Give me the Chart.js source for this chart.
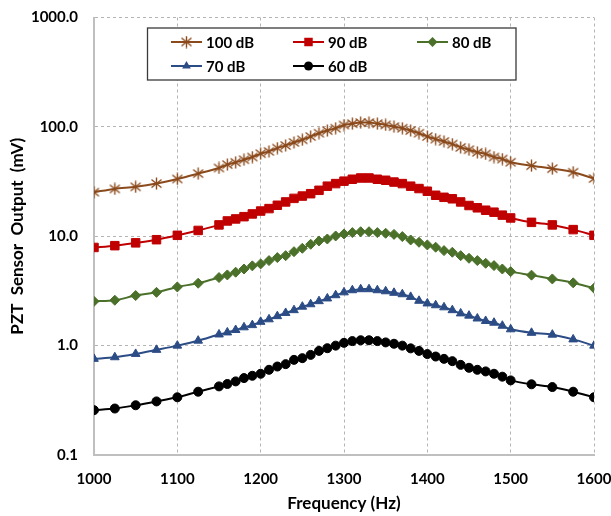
<!DOCTYPE html>
<html>
<head>
<meta charset="utf-8">
<title>PZT Sensor Output</title>
<script src="https://cdn.jsdelivr.net/npm/chart.js@4/dist/chart.umd.min.js"></script>
<style>
  html, body { margin: 0; padding: 0; background: #fff; }
  #wrap { width: 611px; height: 516px; }
</style>
</head>
<body>
<div id="wrap"><canvas id="pztChart" width="611" height="516"></canvas></div>
<script>
// Frequencies (Hz) of the measurement points
const freqs = [1000, 1025, 1050, 1075, 1100, 1125,
    1150, 1160, 1170, 1180, 1190, 1200, 1210, 1220, 1230, 1240,
    1250, 1260, 1270, 1280, 1290, 1300, 1310, 1320, 1330, 1340,
    1350, 1360, 1370, 1380, 1390, 1400, 1410, 1420, 1430, 1440,
    1450, 1460, 1470, 1480, 1490, 1500,
    1525, 1550, 1575, 1600];

// Sensor output (mV) for each sound level
const out100 = [25.3, 27.1, 28.3, 30.3, 33.4, 37.4,
    42.1, 45.2, 47.4, 50.1, 53.0, 56.9, 59.7, 64.0, 67.6, 72.0,
    76.2, 81.6, 87.5, 92.5, 97.2, 104, 107, 109.4, 109.4, 107,
    104.3, 100.6, 97.2, 92.6, 87.5, 81.6, 77.3, 73.6, 69.6, 64.9,
    61.8, 58.5, 56.5, 53.0, 50.8, 47.5,
    44.2, 41.5, 38.5, 33.7];
const out90 = [7.9, 8.2, 8.7, 9.3, 10.2, 11.3,
    12.7, 13.8, 14.4, 15.1, 16.0, 17.0, 17.9, 19.2, 20.6, 22.2,
    23.3, 24.5, 26.3, 28.7, 30.3, 31.9, 33.2, 34.1, 34.1, 33.2,
    32.5, 31.3, 30.3, 28.7, 27.3, 25.8, 23.7, 22.7, 22.0, 20.6,
    19.1, 18.2, 17.3, 16.6, 15.6, 14.7,
    13.4, 12.7, 11.5, 10.2];
const out80 = [2.54, 2.60, 2.87, 3.07, 3.44, 3.72,
    4.19, 4.43, 4.69, 5.02, 5.36, 5.59, 5.99, 6.38, 6.65, 7.23,
    7.76, 8.45, 9.06, 9.44, 10.06, 10.5, 10.8, 11.0, 11.0, 10.8,
    10.65, 10.4, 9.93, 9.25, 8.81, 8.33, 7.94, 7.39, 7.14, 6.65,
    6.29, 5.99, 5.66, 5.39, 5.02, 4.75,
    4.41, 4.07, 3.75, 3.35];
const out70 = [0.757, 0.783, 0.84, 0.915, 1.0, 1.11,
    1.265, 1.32, 1.39, 1.47, 1.54, 1.65, 1.74, 1.86, 1.99, 2.11,
    2.27, 2.39, 2.55, 2.70, 2.89, 3.07, 3.21, 3.28, 3.28, 3.21,
    3.14, 3.04, 2.95, 2.79, 2.57, 2.43, 2.34, 2.24, 2.11, 1.97,
    1.88, 1.77, 1.68, 1.62, 1.52, 1.41,
    1.31, 1.26, 1.14, 1.0];
const out60 = [0.257, 0.266, 0.285, 0.309, 0.337, 0.379,
    0.424, 0.446, 0.471, 0.505, 0.53, 0.553, 0.601, 0.644, 0.677, 0.741,
    0.768, 0.823, 0.895, 0.947, 1.0, 1.06, 1.10, 1.12, 1.12, 1.10,
    1.07, 1.04, 1.0, 0.944, 0.895, 0.837, 0.795, 0.757, 0.721, 0.667,
    0.627, 0.601, 0.581, 0.553, 0.52, 0.481,
    0.443, 0.418, 0.379, 0.337];

const levelLabels = ['100 dB', '90 dB', '80 dB', '70 dB', '60 dB'];
const yTicks = [0.1, 1, 10, 100, 1000];
const xTicks = [1000, 1100, 1200, 1300, 1400, 1500, 1600];

const FONT = 'Lato, "Open Sans", sans-serif';

// asterisk marker: an x with a vertical bar through it
function makeAsterisk(color) {
    const c = document.createElement('canvas');
    c.width = 13; c.height = 13;
    const g = c.getContext('2d');
    g.strokeStyle = color;
    g.lineWidth = 1.4;
    g.beginPath();
    g.moveTo(1.5, 2.5); g.lineTo(11.5, 10.5);
    g.moveTo(11.5, 2.5); g.lineTo(1.5, 10.5);
    g.moveTo(6.5, 0.5); g.lineTo(6.5, 12.5);
    g.stroke();
    return c;
}

const brown = '#8B4A1C';
const red = '#C00000';
const green = '#4A7029';
const blue = '#2C4C86';
const black = '#000000';
const star = makeAsterisk(brown);

function series(label, values, color, style, radius) {
    return {
        label: label,
        data: freqs.map((f, i) => ({ x: f, y: values[i] })),
        borderColor: color,
        backgroundColor: color,
        borderWidth: 2,
        pointStyle: style,
        pointRadius: radius,
        pointBorderWidth: 1,
        pointBorderColor: color,
        pointBackgroundColor: color,
        tension: 0.3
    };
}

// boxed two-row legend above the curves
const boxLegend = {
    id: 'boxLegend',
    afterDraw(chart) {
        const ctx = chart.ctx;
        const slots = [[171, 42], [293, 42], [417, 42], [171, 66], [293, 66]];
        ctx.save();
        ctx.fillStyle = '#fff';
        ctx.fillRect(147.5, 28, 368.5, 52);
        ctx.strokeStyle = '#3a3a3a';
        ctx.lineWidth = 1.3;
        ctx.strokeRect(147.5, 28, 368.5, 52);
        chart.data.datasets.forEach((ds, i) => {
            const [x, y] = slots[i];
            const mid = x + 15.5;
            ctx.strokeStyle = ds.borderColor;
            ctx.lineWidth = 2;
            ctx.beginPath();
            ctx.moveTo(x, y); ctx.lineTo(x + 31, y);
            ctx.stroke();
            drawMarker(ctx, ds, mid, y);
            ctx.fillStyle = '#000';
            ctx.font = 'bold 15px ' + FONT;
            ctx.textBaseline = 'middle';
            ctx.textAlign = 'left';
            ctx.fillText(ds.label, x + 35, y + 1);
        });
        ctx.restore();
    }
};

function drawMarker(ctx, ds, x, y) {
    const r = ds.pointRadius;
    ctx.fillStyle = ds.pointBackgroundColor;
    ctx.beginPath();
    if (ds.pointStyle === 'rect') {
        const s = r * Math.SQRT1_2;
        ctx.rect(x - s, y - s, 2 * s, 2 * s);
    } else if (ds.pointStyle === 'rectRot') {
        ctx.moveTo(x - r, y); ctx.lineTo(x, y - r);
        ctx.lineTo(x + r, y); ctx.lineTo(x, y + r);
        ctx.closePath();
    } else if (ds.pointStyle === 'triangle') {
        ctx.moveTo(x, y - r);
        ctx.lineTo(x + r * 0.866, y + r / 2);
        ctx.lineTo(x - r * 0.866, y + r / 2);
        ctx.closePath();
    } else if (ds.pointStyle === 'circle') {
        ctx.arc(x, y, r, 0, Math.PI * 2);
    } else {
        ctx.drawImage(ds.pointStyle, x - 6.5, y - 6.5);
        return;
    }
    ctx.fill();
}

new Chart(document.getElementById('pztChart'), {
    type: 'line',
    data: {
        datasets: [
            series(levelLabels[0], out100, brown, star, 6),
            series(levelLabels[1], out90, red, 'rect', 6),
            series(levelLabels[2], out80, green, 'rectRot', 5),
            series(levelLabels[3], out70, blue, 'triangle', 5),
            series(levelLabels[4], out60, black, 'circle', 4.5)
        ]
    },
    options: {
        responsive: false,
        devicePixelRatio: 1,
        animation: false,
        layout: { padding: { top: 17.5, right: 17, bottom: 0, left: 0 } },
        plugins: {
            legend: { display: false },
            tooltip: { enabled: false }
        },
        scales: {
            x: {
                type: 'linear',
                min: 1000,
                max: 1600,
                afterFit(scale) {
                    scale.height = 61;
                    scale.paddingLeft = 0;
                    scale.paddingRight = 0;
                },
                afterBuildTicks(scale) { scale.ticks = xTicks.map(v => ({ value: v })); },
                grid: { color: '#b4b4b4', lineWidth: 1, drawTicks: false },
                border: { display: true, color: '#bfbfbf', width: 2, dash: [3, 3] },
                ticks: {
                    color: '#000',
                    padding: 15,
                    maxRotation: 0,
                    font: { family: FONT, size: 15, weight: 'bold' },
                    callback: v => String(v)
                },
                title: {
                    display: true,
                    text: 'Frequency (Hz)',
                    color: '#000',
                    padding: { top: 0, bottom: 2 },
                    font: { family: FONT, size: 17, weight: 'bold' }
                }
            },
            y: {
                type: 'logarithmic',
                min: 0.1,
                max: 1000,
                afterFit(scale) {
                    scale.width = 94;
                    scale.paddingTop = 0;
                    scale.paddingBottom = 0;
                },
                afterBuildTicks(scale) { scale.ticks = yTicks.map(v => ({ value: v })); },
                grid: { color: '#b4b4b4', lineWidth: 1, drawTicks: false },
                border: { display: true, color: '#bfbfbf', width: 2, dash: [3, 3] },
                ticks: {
                    color: '#000',
                    padding: 16,
                    font: { family: FONT, size: 15, weight: 'bold' },
                    callback: v => Number(v).toFixed(1)
                },
                title: {
                    display: true,
                    text: 'PZT  Sensor  Output  (mV)',
                    color: '#000',
                    padding: { top: 7, bottom: 0 },
                    font: { family: FONT, size: 17, weight: 'bold' }
                }
            }
        }
    },
    plugins: [boxLegend]
});
</script>
</body>
</html>
